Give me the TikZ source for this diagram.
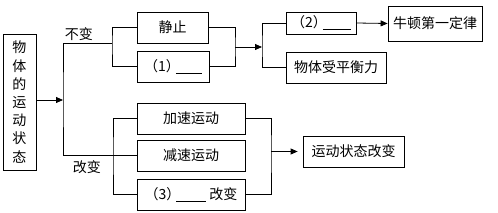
\documentclass[tikz,border=0pt]{standalone}
\usepackage{fontspec}
\newfontfamily\cjk{Noto Sans CJK SC}
\usetikzlibrary{arrows.meta,positioning}
\tikzset{
  blk/.style={draw,line width=0.8pt,inner sep=0pt,font=\cjk\fontsize{14}{16}\selectfont},
  lbl/.style={inner sep=1.5pt,font=\cjk\fontsize{14}{16}\selectfont},
  arr/.style={-{Triangle[length=7pt,width=6pt]}},
}
\newcommand{\blank}[1]{\underline{\hspace{#1}}}

\begin{document}
\begin{tikzpicture}[x=1pt,y=-1pt,line width=0.8pt]
  \useasboundingbox (0,0) rectangle (498,213);
  % state column
  \node[blk,minimum width=33pt,minimum height=136pt,align=center,font=\cjk\fontsize{14}{18.2}\selectfont] (obj) at (19.5,102) {物\\体\\的\\运\\动\\状\\态};
  % unchanged branch
  \node[blk,minimum width=71pt,minimum height=31pt] (jing) at (172.5,27.5) {静止};
  \node[blk,minimum width=72pt,minimum height=31pt] (q1) at (173,66.5) {（1）\hspace{-4pt}\blank{26pt}};
  \node[blk,minimum width=70pt,minimum height=22pt] (q2) at (321,23) {（2）\hspace{-4pt}\blank{28pt}};
  \node[blk,minimum width=94pt,minimum height=35pt] (newton) at (435,23.5) {牛顿第一定律};
  \node[blk,minimum width=100pt,minimum height=31pt] (force) at (336,67.5) {物体受平衡力};
  % changed branch
  \node[blk,minimum width=108pt,minimum height=31pt] (jia) at (191,118.5) {加速运动};
  \node[blk,minimum width=108pt,minimum height=31pt] (jian) at (191,155.5) {减速运动};
  \node[blk,minimum width=108pt,minimum height=31pt] (q3) at (191,194.5) {（3）\hspace{-4pt}\blank{30pt}~改变};
  \node[blk,minimum width=101pt,minimum height=31pt] (change) at (353.5,151.5) {运动状态改变};

  \coordinate (sp) at (63,100);
  \coordinate (ub) at (112,43);
  \coordinate (lb) at (113,155.5);
  \coordinate (tm) at (235,47);
  \coordinate (ts) at (262,47);
  \coordinate (bm) at (271,151.5);

  \draw[arr] (obj.east |- sp) -- (sp);
  \draw (ub) -| (sp) |- (jian.west);
  \node[lbl,anchor=south west] (keep) at (63,43) {不变};
  \node[lbl,anchor=north west] (turn) at (71,159) {改变};

  \draw (jing.west) -| (ub) |- (q1.west);
  \draw (jing.east) -| (tm) |- (q1.east);
  \draw[arr] (tm) -- (ts);
  \draw (q2.west) -| (ts) |- (force.west);
  \draw[arr] (q2.east) -- (newton.west);

  \draw (jia.west) -| (lb) |- (q3.west);
  \draw (jia.east) -| (bm) |- (q3.east);
  \draw[arr,shorten >=5pt] (bm) -- (change.west);
\end{tikzpicture}
\end{document}
